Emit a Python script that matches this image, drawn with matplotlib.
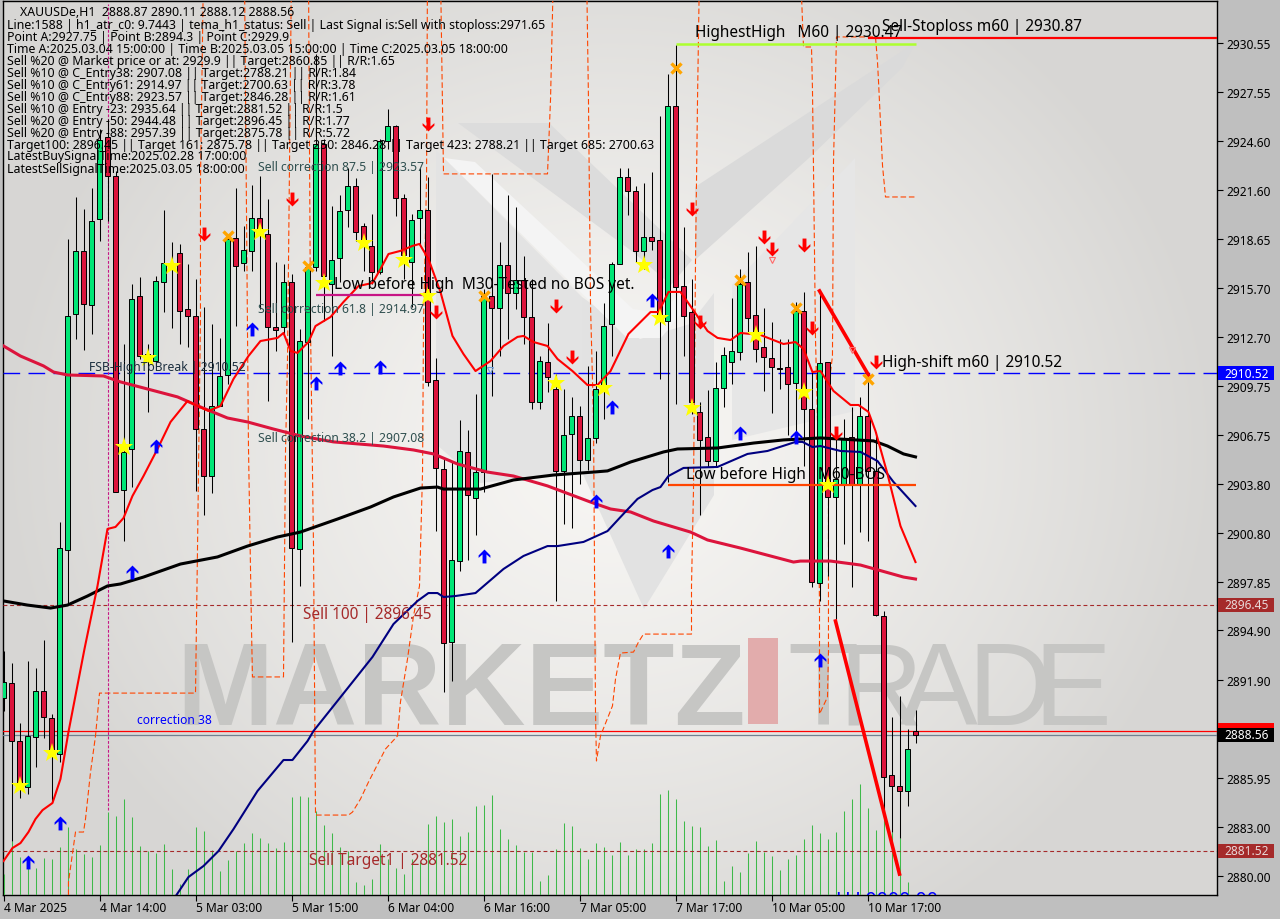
import numpy as np
import matplotlib
matplotlib.use("Agg")
import matplotlib.pyplot as plt
from matplotlib.path import Path
from matplotlib.patches import Polygon, Rectangle
from matplotlib.transforms import Affine2D

plt.rcParams['font.family'] = ['Noto Sans', 'DejaVu Sans']

# candles, one value per H1 bar
opens = [2890.80,2891.71,2888.19,2885.40,2888.43,2891.23,2889.59,2887.40,2899.78,2914.10,2917.93,2914.65,2919.87,2924.84,2922.48,2903.42,2905.91,2915.19,2911.67,2911.25,2916.04,2917.14,2917.80,2914.41,2913.98,2907.12,2904.27,2908.52,2910.40,2918.71,2917.20,2917.93,2919.93,2918.96,2913.31,2913.31,2916.04,2899.84,2912.40,2916.95,2924.42,2915.92,2917.50,2920.41,2921.87,2919.44,2918.23,2916.65,2924.60,2925.51,2921.14,2917.26,2919.93,2920.41,2910.10,2904.70,2894.20,2899.11,2905.73,2902.94,2904.51,2915.19,2914.47,2917.08,2915.38,2916.17,2913.92,2908.76,2911.19,2909.55,2904.58,2906.82,2907.91,2905.24,2906.58,2909.73,2913.50,2917.14,2922.42,2921.57,2917.93,2918.77,2918.59,2913.68,2926.72,2915.80,2914.22,2908.16,2906.64,2905.18,2909.61,2911.19,2911.80,2916.04,2914.04,2912.10,2911.43,2910.83,2910.89,2909.92,2914.28,2908.34,2897.78,2911.19,2903.00,2903.79,2906.64,2903.79,2907.91,2904.58,2895.78,2886.13,2885.46,2885.16,2888.80]
highs = [2893.65,2892.92,2889.28,2893.05,2892.62,2894.32,2889.83,2901.48,2918.65,2921.20,2920.47,2921.75,2925.33,2925.93,2922.78,2912.28,2915.92,2916.35,2912.28,2916.41,2920.41,2918.47,2918.35,2917.14,2916.23,2914.53,2913.50,2912.65,2918.84,2921.75,2919.44,2921.93,2922.48,2921.08,2917.26,2917.14,2916.53,2913.19,2917.01,2929.88,2924.72,2920.66,2921.32,2922.96,2922.35,2919.62,2920.17,2924.72,2926.54,2925.57,2921.38,2920.17,2922.96,2922.42,2911.43,2905.30,2905.12,2907.67,2907.06,2909.25,2915.62,2922.60,2918.47,2921.32,2920.60,2917.62,2916.23,2911.55,2913.56,2910.46,2909.55,2909.07,2908.52,2910.95,2911.86,2914.77,2917.26,2922.96,2922.96,2921.87,2922.05,2922.72,2926.12,2928.67,2930.43,2919.38,2916.23,2908.76,2909.49,2911.19,2912.10,2915.07,2916.83,2917.86,2918.23,2914.47,2913.62,2912.59,2912.59,2914.83,2915.44,2910.58,2915.56,2911.19,2906.52,2907.73,2908.46,2909.07,2909.98,2906.94,2896.08,2889.65,2890.92,2888.92,2890.07]
lows = [2890.01,2882.12,2884.73,2884.98,2886.61,2888.37,2884.49,2886.92,2896.50,2912.59,2911.92,2912.89,2918.53,2919.75,2903.30,2900.33,2903.60,2911.37,2908.16,2910.89,2914.22,2913.25,2912.28,2912.10,2903.36,2901.91,2903.24,2908.52,2909.85,2913.37,2916.71,2916.71,2914.41,2908.82,2911.86,2912.89,2894.20,2897.60,2907.73,2916.71,2913.68,2911.55,2916.04,2919.38,2918.53,2916.71,2915.92,2916.53,2924.11,2920.05,2916.23,2914.53,2918.29,2909.73,2900.93,2891.17,2891.83,2898.51,2899.18,2900.69,2903.30,2909.13,2911.55,2912.59,2914.41,2912.28,2908.34,2908.34,2909.37,2896.69,2901.36,2901.12,2903.79,2904.64,2906.27,2907.73,2911.55,2917.14,2920.11,2917.26,2916.83,2917.99,2910.16,2903.91,2908.64,2911.55,2908.03,2901.91,2904.82,2904.82,2908.46,2909.85,2911.31,2913.01,2911.19,2909.43,2908.10,2909.55,2906.76,2907.00,2904.88,2897.54,2896.69,2898.20,2895.59,2900.15,2897.54,2900.87,2900.33,2895.78,2883.58,2882.67,2882.31,2884.25,2888.07]
closes = [2891.77,2888.19,2885.40,2888.50,2891.23,2889.65,2887.40,2899.90,2913.98,2917.93,2914.71,2919.75,2924.66,2922.48,2903.30,2905.73,2915.01,2911.55,2911.25,2916.10,2917.20,2916.83,2914.28,2913.98,2907.12,2904.27,2908.52,2910.34,2918.65,2917.01,2917.99,2919.93,2918.96,2913.31,2913.13,2916.04,2899.90,2912.46,2916.95,2924.42,2916.41,2917.38,2920.35,2921.87,2919.08,2918.23,2916.65,2924.60,2925.51,2921.14,2917.68,2919.81,2920.41,2909.98,2904.76,2894.14,2899.18,2905.79,2903.12,2904.51,2915.19,2914.47,2917.08,2915.38,2916.17,2913.92,2908.76,2911.25,2910.28,2904.58,2906.76,2907.91,2905.24,2906.58,2909.55,2913.37,2917.14,2922.42,2921.57,2917.93,2918.77,2918.53,2914.04,2926.72,2915.74,2913.98,2908.76,2906.46,2905.18,2909.61,2911.61,2911.86,2915.92,2913.86,2911.98,2911.49,2910.89,2910.76,2909.85,2914.28,2908.34,2897.84,2911.13,2903.00,2904.09,2906.52,2903.79,2907.91,2904.58,2895.84,2886.01,2885.46,2885.16,2887.71,2888.56]
# volume histogram, tick volume in pane units
volumes = [21,54,38,38,27,37,36,48,68,46,41,38,50,83,79,96,78,49,44,42,51,26,11,26,68,64,45,24,35,44,52,62,57,52,47,53,98,99,98,84,70,62,48,44,13,10,16,51,36,27,21,36,33,71,79,73,76,59,63,89,90,100,66,56,50,43,43,14,20,46,72,69,47,36,52,48,40,53,40,46,46,52,101,105,96,74,69,68,49,55,14,29,23,42,54,43,39,25,36,40,56,70,62,56,63,84,96,111,87,65,83,63,57,13,0]

# moving averages as (bar, price) knots
fast_x = [0,1.12,2.12,3.12,4,4.88,6.12,7.12,8.12,10.12,11.75,13,14,15,16.12,17.5,19.25,20.88,23,24.25,25.62,27.12,28.75,30.62,32.12,34.25,35,35.88,36.75,38.12,39,40.88,42.5,44.38,46.12,47.12,48.12,49.62,51.12,52,53.12,54.62,56.12,57.5,59,60.88,62.5,64.25,65,66.25,68,69.25,71.12,73,74.25,75.88,78.12,80.88,81.88,83.12,84.62,86.12,88,89.25,90.88,92.12,94.62,97.5,99,100,101.12,102.12,103.75,105.88,106.88,108.12,109,110.5,112.12,114]
fast_y = [2880.91,2881.70,2882.00,2882.67,2883.46,2884.00,2884.43,2885.89,2888.74,2893.77,2897.60,2901.06,2901.18,2901.72,2903.06,2904.27,2905.91,2907.55,2908.82,2908.52,2908.22,2908.52,2910.16,2911.55,2912.46,2912.65,2912.95,2911.86,2911.74,2912.40,2913.37,2913.92,2914.83,2915.80,2915.98,2916.83,2917.74,2917.93,2918.23,2918.35,2917.44,2915.44,2912.77,2911.67,2910.64,2911.25,2912.16,2912.71,2912.77,2912.40,2912.16,2911.37,2910.64,2909.79,2909.79,2910.64,2912.89,2914.22,2914.22,2915.44,2915.44,2914.41,2913.07,2912.65,2912.52,2912.95,2912.83,2912.28,2912.40,2911.98,2910.58,2910.64,2909.43,2908.58,2908.58,2908.16,2907.00,2904.39,2901.24,2899.05]
mid_x = [0,2.12,5,6.25,8,12.5,14.62,18,21.75,24.62,28,30.5,33.75,37.12,41.25,47.5,51.25,53.75,56.75,60.5,63.75,68,73.38,75.88,78.38,81.25,85.88,88,92.12,98.75,99.62,103.38,107.12,112.5,114]
mid_y = [2912.16,2911.55,2910.95,2910.58,2910.40,2910.34,2909.98,2909.55,2909.07,2908.46,2907.79,2907.55,2907.12,2906.70,2906.34,2906.09,2905.85,2905.61,2905.00,2904.51,2904.27,2903.67,2902.69,2902.27,2902.09,2901.54,2900.87,2900.39,2899.90,2899.05,2899.11,2899.11,2898.87,2898.14,2898.02]
slow_x = [0,3,5.88,8,10.5,13,14.62,17.5,22.12,26.75,30.5,34.25,37.12,41.75,45.88,48.75,52.12,54.25,55,59.62,63.75,68.75,73.75,75.5,77.12,78.38,82.5,84.25,89.25,93.75,97.5,102.12,108.75,110.5,112.5,114]
slow_y = [2896.69,2896.44,2896.26,2896.44,2896.99,2897.60,2897.72,2898.14,2898.93,2899.36,2900.02,2900.57,2900.87,2901.66,2902.39,2903.00,2903.54,2903.60,2903.48,2903.48,2904.03,2904.33,2904.51,2904.58,2904.88,2905.12,2905.73,2905.91,2905.97,2906.27,2906.46,2906.58,2906.40,2906.09,2905.61,2905.43]
tema_x = [21.62,23.12,25,26.88,28.75,31.75,35,36.12,38,38.75,41.25,46.12,48.75,51.75,53.12,54.25,55,56.5,59,62.5,65,68,69.25,72.5,75.5,77.12,79.25,81.12,82.12,83.12,85,89.25,93,95.5,99,99.88,101.12,102.12,104.62,107.12,109.25,111.25,114]
tema_y = [2878.85,2879.94,2880.61,2881.52,2882.85,2885.16,2887.04,2887.04,2888.19,2888.80,2890.32,2893.29,2895.29,2896.69,2897.17,2897.17,2896.93,2896.99,2897.17,2898.63,2899.42,2900.02,2900.02,2900.27,2900.93,2901.78,2902.88,2903.42,2903.60,2904.27,2904.76,2904.82,2905.61,2905.79,2906.34,2906.34,2906.03,2906.09,2905.79,2905.73,2905.18,2903.91,2902.45]

# atr stop line, runs off the top of the chart in places
stop_x = [8.12,8.12,9,10,10.25,10.88,11.5,12,24,24.25,24.62,24.62,25,30.12,30.5,30.62,31,31.12,35,35.25,35.5,35.62,36,38.12,38.38,38.75,39,43.12,43.62,44.62,45.62,47.75,49.25,49.62,50.5,51.25,52,52.38,52.5,52.88,53,54.62,55,68,68.38,68.75,72.88,73.12,73.38,73.75,74,74.12,74.62,76.12,76.5,77.12,78.75,79.38,80,86,86,86.25,86.38,86.5,86.75,87,99.62,100,101,101.12,101.25,101.38,101.5,101.75,102,102,103,103.12,103.12,103.38,103.62,103.75,104,104.12,109,109.25,109.38,109.88,110.25,114]
stop_y = [2878.85,2879.64,2882.67,2882.67,2883.46,2886.31,2888.50,2891.10,2891.10,2899.84,2913.80,2922.11,2935.04,2935.04,2913.01,2906.09,2894.99,2892.08,2892.08,2905.73,2911.37,2917.01,2935.04,2935.04,2913.19,2900.02,2883.70,2883.70,2883.88,2884.67,2885.70,2887.71,2888.50,2890.56,2893.17,2895.78,2897.60,2904.51,2913.37,2922.29,2935.04,2935.04,2922.60,2922.60,2927.15,2935.04,2935.04,2927.15,2914.59,2907.73,2889.95,2886.98,2888.50,2890.32,2891.95,2893.53,2893.59,2894.20,2894.68,2894.68,2897.60,2903.48,2910.58,2917.26,2927.03,2935.04,2935.04,2930.30,2930.30,2927.76,2922.90,2917.62,2912.59,2907.73,2896.38,2889.83,2890.86,2893.59,2902.45,2910.58,2911.55,2923.33,2928.36,2930.91,2930.91,2929.39,2928.18,2923.08,2921.20,2921.20]

# signal markers
sell_x = [25,36,53,54,69,71,86,87,95,96,100,101,104,109]
sell_y = [2918.96,2921.08,2925.63,2914.22,2914.59,2911.49,2920.47,2913.62,2918.77,2918.05,2918.29,2913.25,2906.88,2911.19]
buy_x = [3,7,16,19,31,39,42,47,60,74,76,81,83,92,99,102]
buy_y = [2880.85,2883.22,2898.45,2906.09,2913.19,2909.92,2910.83,2910.89,2899.42,2902.76,2908.46,2914.95,2899.72,2906.88,2906.64,2893.11]
star_x = [2,6,15,18,21,32,40,45,50,53,69,75,80,82,94,86,100,103]
star_y = [2885.46,2887.46,2906.03,2911.43,2917.01,2919.08,2915.98,2918.41,2917.38,2915.19,2909.92,2909.61,2917.08,2913.86,2912.83,2908.40,2909.37,2903.73]
cross_x = [28,38,60,84,92,99,108]
cross_y = [2918.84,2917.01,2915.19,2929.03,2916.17,2914.47,2910.16]
# small hollow pointers
hollow_x = [60.8,96,106]
hollow_y = [2910.70,2917.40,2911.90]
hollow_c = ["#6f9fd8","#ff6a6a","#ff6a6a"]

# axis labels
price_ticks = [2930.55,2927.55,2924.60,2921.60,2918.65,2915.70,2912.70,2909.75,2906.75,2903.80,2900.80,2897.85,2894.90,2891.90,2888.95,2885.95,2883.00,2880.00]
time_labels = ["4 Mar 2025","4 Mar 14:00","5 Mar 03:00","5 Mar 15:00","6 Mar 04:00","6 Mar 16:00","7 Mar 05:00","7 Mar 17:00","10 Mar 05:00","10 Mar 17:00"]

info_lines = [
    "Line:1588 | h1_atr_c0: 9.7443 | tema_h1_status: Sell | Last Signal is:Sell with stoploss:2971.65",
    "Point A:2927.75 | Point B:2894.3 | Point C:2929.9",
    "Time A:2025.03.04 15:00:00 | Time B:2025.03.05 15:00:00 | Time C:2025.03.05 18:00:00",
    "Sell %20 @ Market price or at: 2929.9 || Target:2860.85 || R/R:1.65",
    "Sell %10 @ C_Entry38: 2907.08 || Target:2788.21 || R/R:1.84",
    "Sell %10 @ C_Entry61: 2914.97 || Target:2700.63 || R/R:3.78",
    "Sell %10 @ C_Entry88: 2923.57 || Target:2846.28 || R/R:1.61",
    "Sell %10 @ Entry -23: 2935.64 || Target:2881.52 || R/R:1.5",
    "Sell %20 @ Entry -50: 2944.48 || Target:2896.45 || R/R:1.77",
    "Sell %20 @ Entry -88: 2957.39 || Target:2875.78 || R/R:5.72",
    "Target100: 2896.45 || Target 161: 2875.78 || Target 250: 2846.28 || Target 423: 2788.21 || Target 685: 2700.63",
    "LatestBuySignalTime:2025.02.28 17:00:00",
    "LatestSellSignalTime:2025.03.05 18:00:00",
]

W, H = 1280, 920
fig = plt.figure(figsize=(W/100, H/100), dpi=100, facecolor="#bfbfbf")
ax = fig.add_axes([3/W, 1-896/H, (1217-3)/W, (896-2)/H])

# pixel coordinates from the top left, for watermark and labels
px = Affine2D().scale(1, -1).translate(0, H)

def label(x, y, s, size=8.85, color="black", **kw):
    fig.text(x/W, 1-y/H, s, fontsize=size, color=color, va="center", ha=kw.pop("ha", "left"), **kw)

# background gradient
yy, xx = np.mgrid[0:1:230j, 0:1:320j]
r = np.clip(np.sqrt(((xx-0.5)/0.5)**2 + ((yy-0.5)/0.62)**2), 0, 1)
grey = 0.97 - 0.125*r**1.3
ax.imshow(np.dstack([grey, grey*0.995, grey*0.985]), extent=(0, 1, 0, 1), transform=ax.transAxes,
          aspect="auto", zorder=0, interpolation="bilinear")
# half a pixel of slack so one pixel lines land on pixel centres
ax.set_xlim(-0.0625, 151.6875)
ax.set_ylim(2878.85, 2933.09)

# logo behind the chart
logo = [
    ([(436,151),(582,298),(582,473),(480,484),(436,445)], "#e3e3e3"),
    ([(458,124),(549,124),(692,261),(671,286),(633,253)], "#dcdcdc"),
    ([(582,298),(640,340),(690,325),(714,294),(714,496),(644,610),(582,473)], "#e2e2e2"),
    ([(732,286),(855,159),(855,412),(732,441)], "#e6e6e6"),
    ([(695,188),(916,43),(902,69),(809,159),(695,261)], "#dadada"),
    ([(444,159),(475,163),(633,310),(661,314),(695,278),(695,298),(661,339),(627,339)], "#f4f4f4"),
]
for pts, c in logo:
    ax.add_patch(Polygon(pts, closed=True, fc=c, ec="none", transform=px, zorder=1))

wm = dict(transform=px, color="#c6c6c4", zorder=1, va="baseline", ha="left")
ax.text(176, 725, "MARKETZ", fontsize=84, family="Liberation Sans", weight="bold", **wm)
ax.add_patch(Rectangle((748, 639), 30, 86, fc="#e2acac", ec="none", transform=px, zorder=1))
for tx, ch in zip([787, 838, 900, 967, 1033], "TRADE"):
    ax.text(tx, 725, ch, fontsize=84, family="Liberation Sans", **wm)

# volume pane shares the main axes
bars = np.arange(len(closes))
vol = ax.twinx()
vol.set_ylim(0, 894)
vol.axis("off")
vol.set_zorder(ax.get_zorder())
vol.vlines(bars, 0, volumes, color="#3fb94a", lw=0.75, zorder=2)

# everything else goes on a transparent copy above the volume lines
top = fig.add_axes(ax.get_position(), sharex=ax, sharey=ax)
top.patch.set_alpha(0)
top.axis("off")

top.axhline(2910.52, color="#0000ff", lw=1.0, dashes=(12, 6), zorder=3)
top.axhline(2896.45, color="#a52a2a", lw=0.8, dashes=(3.5, 2.5), zorder=3)
top.axhline(2881.52, color="#a52a2a", lw=0.8, dashes=(3.5, 2.5), zorder=3)
top.axhline(2888.78, color="#ff0000", lw=0.9, zorder=3)
top.axhline(2888.56, color="#708090", lw=0.9, zorder=3)
top.plot(stop_x, stop_y, color="#ff4500", lw=0.8, dashes=(5, 2.5), zorder=3)
top.vlines(13, 2884.0, 2932.9, color="#c71585", lw=0.8, linestyles=(0, (2.5, 1.5)), zorder=3)

colors = ["#00e676" if c >= o else "#dc143c" for o, c in zip(opens, closes)]
top.vlines(bars, lows, highs, color="black", lw=0.75, zorder=4)
top.bar(bars, np.array(closes)-np.array(opens), bottom=opens, width=0.62, color=colors,
        edgecolor="black", lw=0.7, zorder=5)

top.plot(mid_x, mid_y, color="#dc143c", lw=2.2, zorder=6)
top.plot(slow_x, slow_y, color="black", lw=2.2, zorder=6)
top.plot(tema_x, tema_y, color="#000080", lw=1.5, zorder=6)
top.plot(fast_x, fast_y, color="#ff0000", lw=1.5, zorder=6)

top.hlines(2915.26, 39.12, 53, color="#c71585", lw=1.6, zorder=7)
top.hlines(2903.73, 83, 114, color="#ff4500", lw=1.6, zorder=7)
top.hlines(2930.49, 84, 114, color="#adff2f", lw=1.8, zorder=7)
top.hlines(2930.87, 108, 151.75, color="#ff0000", lw=1.6, zorder=7)
top.plot([102, 108.12], [2915.50, 2910.40], color="#ff0000", lw=2.6, zorder=7)
top.plot([104, 112], [2895.47, 2880.12], color="#ff0000", lw=2.6, zorder=7)

up = Path([(0,1),(0.85,0.15),(0.85,-0.2),(0.28,0.3),(0.28,-1),(-0.28,-1),(-0.28,0.3),(-0.85,-0.2),(-0.85,0.15),(0,1)], closed=True)
down = Path(up.vertices*[1, -1], closed=True)
top.plot(buy_x, buy_y, ls="", marker=up, ms=10, color="#0000ff", mew=0, zorder=8)
top.plot(sell_x, sell_y, ls="", marker=down, ms=10, color="#ff0000", mew=0, zorder=8)
top.plot(star_x, star_y, ls="", marker="*", ms=14, color="#ffff00", mew=0, zorder=8)
top.plot(cross_x, cross_y, ls="", marker="x", ms=7.5, color="#ffa500", mew=2.4, zorder=8)
for hx, hy, hc in zip(hollow_x, hollow_y, hollow_c):
    top.plot(hx, hy, ls="", marker="v", ms=5, mfc="none", mec=hc, mew=0.8, zorder=8)

top.text(104.0, 2878.56, "LLL0000.00", fontsize=14, color="#0000ff", va="center", zorder=8, clip_on=True)

# axes frame, ticks
for s in ax.spines.values():
    s.set_linewidth(1)
ax.yaxis.tick_right()
ax.set_yticks(price_ticks)
# 2888.95 sits under the bid tag in the terminal
ax.set_yticklabels(["" if p == 2888.95 else f"{p:.2f}" for p in price_ticks])
ax.set_xticks(np.arange(0, 120, 12))
ax.set_xticklabels(time_labels, ha="left")
ax.tick_params(axis="both", length=4, width=0.8, labelsize=8.6, colors="black", pad=2)
ax.tick_params(axis="y", pad=3)
ax.tick_params(axis="x", pad=0.5)

# price tags on the right
def tag(price, fc, tc, s, dy=0):
    y = ax.transData.transform((0, price))[1]
    y = H - y + dy
    fig.add_artist(Rectangle((1218/W, 1-(y+7)/H), 56/W, 14/H, fc=fc, ec="none", transform=fig.transFigure, zorder=5))
    if s:
        label(1224, y, s, size=8.6, color=tc, zorder=6)

tag(2888.78, "#ff0000", "white", "", dy=-1.5)
tag(2910.52, "#0000ff", "white", "2910.52")
tag(2896.45, "#a52a2a", "#e8d8d8", "2896.45")
tag(2888.56, "black", "white", "2888.56")
tag(2881.52, "#a52a2a", "#e8d8d8", "2881.52")

# info block
label(20, 12, "XAUUSDe,H1  2888.87 2890.11 2888.12 2888.56")
for n, line in enumerate(info_lines):
    label(7, 25+n*12, line)

# chart objects
label(258, 167, "Sell correction 87.5 | 2923.57", color="#2f4f4f", size=8.75)
label(258, 309, "Sell correction 61.8 | 2914.97", color="#2f4f4f", size=8.75)
label(258, 439, "Sell correction 38.2 | 2907.08", color="#2f4f4f", size=8.75)
label(89, 368, "FSB-HighToBreak | 2910.52", color="#1c2f3f", size=8.75)
label(137, 721, "correction 38", color="#0000ff", size=8.75)
label(334, 285, "Low before High  M30-Tested no BOS yet.", size=11.1)
label(686, 475, "Low before High   M60-BOS", size=11.1)
label(695, 33, "HighestHigh   M60 | 2930.47", size=11.1)
label(882, 27, "Sell-Stoploss m60 | 2930.87", size=11.1)
label(882, 363, "High-shift m60 | 2910.52", size=11.1)
label(303, 615, "Sell 100 | 2896.45", size=11.1, color="#a52a2a")
label(309, 861, "Sell Target1 | 2881.52", size=11.1, color="#a52a2a")

fig.savefig("out.png", dpi=100, facecolor=fig.get_facecolor())
